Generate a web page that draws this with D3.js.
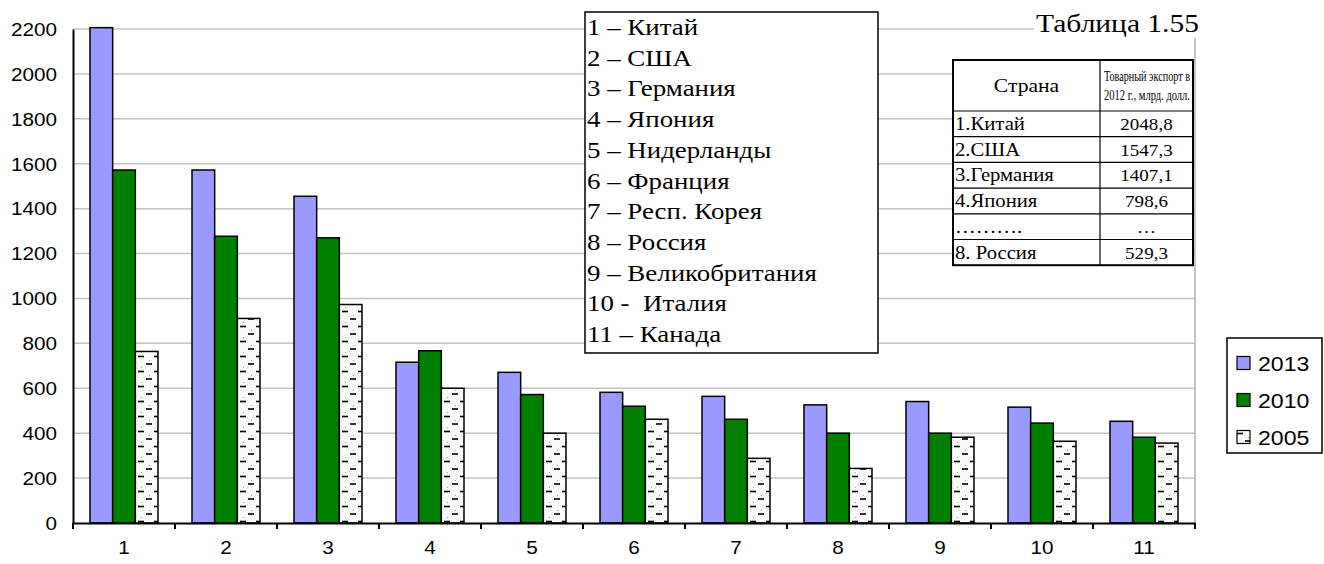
<!DOCTYPE html>
<html>
<head>
<meta charset="utf-8">
<script src="https://cdn.jsdelivr.net/npm/d3@7"></script>
<style>
  body { margin: 0; background: #fff; }
  svg { display: block; }
</style>
</head>
<body>
<svg id="chart" width="1324" height="564"></svg>
<script>
// data
var categories = ['1', '2', '3', '4', '5', '6', '7', '8', '9', '10', '11']
var years = ['2013', '2010', '2005']
var v2013 = [2206, 1572, 1455, 716, 671, 582, 564, 526, 541, 516, 453]
var v2010 = [1572, 1277, 1270, 767, 572, 520, 462, 400, 400, 445, 382]
var v2005 = [764, 911, 973, 600, 400, 462, 288, 243, 382, 364, 356]
var yTicks = [0, 200, 400, 600, 800, 1000, 1200, 1400, 1600, 1800, 2000, 2200]

var countries = ['1 – Китай', '2 – США', '3 – Германия', '4 – Япония', '5 – Нидерланды',
    '6 – Франция', '7 – Респ. Корея', '8 – Россия', '9 – Великобритания', '10 -  Италия', '11 – Канада']

var tableHead = ['Страна', ['Товарный экспорт в', '2012 г., млрд. долл.']]
var tableCountry = ['1.Китай', '2.США', '3.Германия', '4.Япония', '……….', '8. Россия']
var tableValue = ['2048,8', '1547,3', '1407,1', '798,6', '…', '529,3']

var serif = '"Liberation Serif", "Times New Roman", serif'
var sans = '"Liberation Sans", Arial, sans-serif'

var svg = d3.select('#chart')
var mLeft = 73, mRight = 1195, mTop = 29, mBottom = 523

// the picture's text is a bit wider than the fonts, so stretch it sideways
function wideText(sel, x, y, sx) {
    return sel.attr('transform', 'translate(' + x + ',' + y + ') scale(' + sx + ',1)')
}

var defs = svg.append('defs')
var pat = defs.append('pattern')
    .attr('id', 'dash')
    .attr('patternUnits', 'userSpaceOnUse')
    .attr('width', 16).attr('height', 15)
pat.append('rect').attr('width', 16).attr('height', 15).attr('fill', '#fbfbfb')
pat.append('line').attr('x1', 8).attr('x2', 14).attr('y1', 4).attr('y2', 4)
    .attr('stroke', '#000').attr('stroke-width', 1.6)
pat.append('line').attr('x1', 0).attr('x2', 6).attr('y1', 11.5).attr('y2', 11.5)
    .attr('stroke', '#000').attr('stroke-width', 1.6)
pat.append('rect').attr('x', 3).attr('y', 7).attr('width', 1).attr('height', 1).attr('fill', '#999')
pat.append('rect').attr('x', 11).attr('y', 0).attr('width', 1).attr('height', 1).attr('fill', '#999')

var colors = {'2013': '#9999ff', '2010': '#008000', '2005': 'url(#dash)'}
var series = {'2013': v2013, '2010': v2010, '2005': v2005}

var x0 = d3.scaleBand().domain(categories).range([mLeft, mRight])
    .paddingInner(1 / 3).paddingOuter(1 / 6)
var x1 = d3.scaleBand().domain(years).range([0, x0.bandwidth()])
var y = d3.scaleLinear().domain([0, 2200]).range([mBottom, mTop])

// gridlines
svg.append('g')
    .selectAll('line')
    .data(yTicks.slice(1))
    .join('line')
    .attr('x1', mLeft).attr('x2', mRight)
    .attr('y1', function(d) { return y(d) })
    .attr('y2', function(d) { return y(d) })
    .attr('stroke', '#c4c4c4')
    .attr('stroke-width', 1.5)

// right border of plot
svg.append('line')
    .attr('x1', mRight).attr('x2', mRight).attr('y1', mTop).attr('y2', mBottom)
    .attr('stroke', '#b0b0b0').attr('stroke-width', 1.5)

// bars
var groups = svg.append('g')
    .selectAll('g')
    .data(categories)
    .join('g')
    .attr('transform', function(d) { return 'translate(' + x0(d) + ',0)' })

groups.selectAll('rect')
    .data(function(d, i) {
        return years.map(function(yr) { return {year: yr, value: series[yr][i]} })
    })
    .join('rect')
    .attr('x', function(d) { return x1(d.year) })
    .attr('width', x1.bandwidth())
    .attr('y', function(d) { return y(d.value) })
    .attr('height', function(d) { return mBottom - y(d.value) })
    .attr('fill', function(d) { return colors[d.year] })
    .attr('stroke', '#000')
    .attr('stroke-width', 1.5)

// axes
var yAxis = svg.append('g')
    .attr('transform', 'translate(' + mLeft + ',0)')
    .call(d3.axisLeft(y).tickValues(yTicks).tickFormat(d3.format('d')).tickSize(0))
yAxis.select('.domain').attr('stroke', '#000').attr('stroke-width', 2)
yAxis.selectAll('text')
    .attr('x', null).attr('dy', '0.35em')
    .style('font-family', sans)
    .style('font-size', '18px')
    .attr('fill', '#000')
    .attr('transform', 'translate(-16,0) scale(1.15,1)')

var xAxis = svg.append('g')
    .attr('transform', 'translate(0,' + mBottom + ')')
    .call(d3.axisBottom(x0).tickSize(0))
xAxis.select('.domain').attr('stroke', '#000').attr('stroke-width', 2)
xAxis.selectAll('text')
    .attr('y', null).attr('dy', null)
    .style('font-family', sans)
    .style('font-size', '18px')
    .attr('fill', '#000')
    .attr('transform', 'translate(0,31) scale(1.15,1)')
// tick marks between categories
xAxis.selectAll('line.sep')
    .data(d3.range(categories.length + 1))
    .join('line')
    .attr('class', 'sep')
    .attr('x1', function(i) { return mLeft + i * x0.step() })
    .attr('x2', function(i) { return mLeft + i * x0.step() })
    .attr('y1', 0).attr('y2', 6)
    .attr('stroke', '#000').attr('stroke-width', 2)

// country list box
var box = svg.append('g')
box.append('rect')
    .attr('x', 585).attr('y', 12).attr('width', 293).attr('height', 341)
    .attr('fill', '#fff').attr('stroke', '#000').attr('stroke-width', 1.5)
box.selectAll('text')
    .data(countries)
    .join('text')
    .each(function(d, i) { wideText(d3.select(this), 587, 35 + i * 30.7, 1.17) })
    .text(function(d) { return d })
    .style('white-space', 'pre')
    .style('font-family', serif)
    .style('font-size', '23px')
    .attr('fill', '#000')

// table title
svg.append('rect').attr('x', 1034).attr('y', 6).attr('width', 175).attr('height', 32).attr('fill', '#fff')
wideText(svg.append('text'), 1036, 32, 1.18)
    .text('Таблица 1.55')
    .style('font-family', serif)
    .style('font-size', '25px')

// table
var tX = 953, tMid = 1100, tR = 1193, tTop = 60, tHeadBottom = 111, rowH = 25.7
var tbl = svg.append('g')
var tBottom = tHeadBottom + rowH * tableCountry.length
tbl.append('rect')
    .attr('x', tX).attr('y', tTop).attr('width', tR - tX).attr('height', tBottom - tTop)
    .attr('fill', '#fff').attr('stroke', '#000').attr('stroke-width', 2)
tbl.append('line').attr('x1', tMid).attr('x2', tMid).attr('y1', tTop).attr('y2', tBottom)
    .attr('stroke', '#000').attr('stroke-width', 1.2)
tbl.selectAll('line.row')
    .data(d3.range(tableCountry.length))
    .join('line')
    .attr('class', 'row')
    .attr('x1', tX).attr('x2', tR)
    .attr('y1', function(i) { return tHeadBottom + i * rowH })
    .attr('y2', function(i) { return tHeadBottom + i * rowH })
    .attr('stroke', '#000').attr('stroke-width', 1.2)

wideText(tbl.append('text'), (tX + tMid) / 2, 92, 1.2)
    .attr('text-anchor', 'middle')
    .text(tableHead[0])
    .style('font-family', serif).style('font-size', '18px')
tbl.selectAll('text.head2')
    .data(tableHead[1])
    .join('text')
    .attr('class', 'head2')
    .attr('x', tMid + 4)
    .attr('y', function(d, i) { return 81 + i * 19 })
    .attr('textLength', 86)
    .attr('lengthAdjust', 'spacingAndGlyphs')
    .text(function(d) { return d })
    .style('font-family', serif).style('font-size', '15px')
tbl.selectAll('text.cty')
    .data(tableCountry)
    .join('text')
    .attr('class', 'cty')
    .each(function(d, i) { wideText(d3.select(this), tX + 2, tHeadBottom + i * rowH + 19, 1.15) })
    .text(function(d) { return d })
    .style('font-family', serif).style('font-size', '18px')
tbl.selectAll('text.val')
    .data(tableValue)
    .join('text')
    .attr('class', 'val')
    .each(function(d, i) { wideText(d3.select(this), (tMid + tR) / 2, tHeadBottom + i * rowH + 19, 1.12) })
    .attr('text-anchor', 'middle')
    .text(function(d) { return d })
    .style('font-family', serif).style('font-size', '17px')

// year legend
var leg = svg.append('g')
leg.append('rect')
    .attr('x', 1227).attr('y', 338).attr('width', 95).attr('height', 115)
    .attr('fill', '#fff').attr('stroke', '#000').attr('stroke-width', 1.5)
var items = leg.selectAll('g')
    .data(years)
    .join('g')
    .attr('transform', function(d, i) { return 'translate(1237,' + (363 + i * 37) + ')' })
items.append('rect')
    .attr('x', 0).attr('y', -6.5).attr('width', 13).attr('height', 13)
    .attr('fill', function(d) { return colors[d] })
    .attr('stroke', '#000').attr('stroke-width', 1.2)
items.append('text')
    .attr('transform', 'translate(21,8) scale(1.1,1)')
    .text(function(d) { return d })
    .style('font-family', sans)
    .style('font-size', '21px')
</script>
</body>
</html>
